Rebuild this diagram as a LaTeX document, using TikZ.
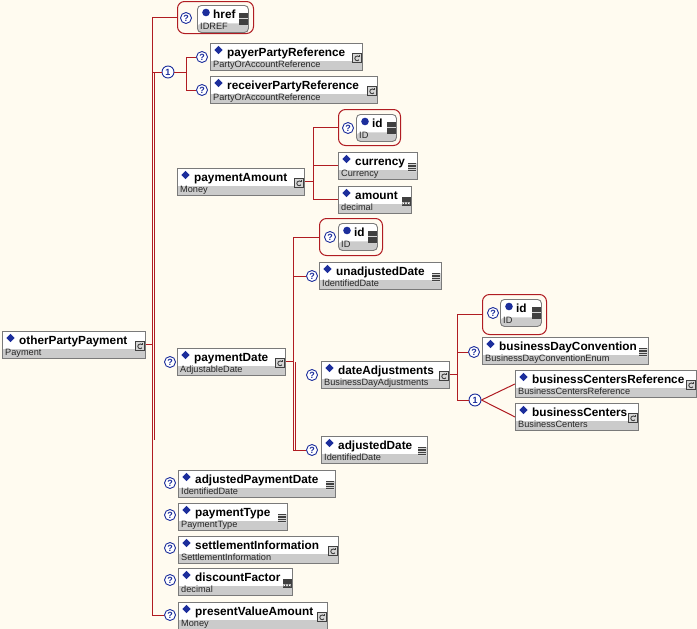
\documentclass[tikz,border=0pt]{standalone}
\usepackage{fontspec}
\setmainfont{Liberation Sans}
\definecolor{bgcream}{HTML}{FFFBF0}
\definecolor{linered}{HTML}{B01C22}
\definecolor{elemblue}{HTML}{1C2E9C}
\definecolor{boxborder}{HTML}{7A7A7A}
\definecolor{bandgray}{HTML}{CBCBCB}
\definecolor{icondark}{HTML}{404040}
\definecolor{iconlight}{HTML}{D6D6D6}
\tikzset{
  conn/.style={draw=linered, line width=1pt},
  ebox/.style={draw=boxborder, fill=white, minimum height=27pt, inner sep=0pt, line width=0.9pt,
    path picture={\fill[bandgray] (path picture bounding box.south west) rectangle ([yshift=9pt]path picture bounding box.south east);}},
  abox/.style={ebox, rounded corners=4pt},
  etitle/.style={anchor=base west, inner sep=0pt, font=\fontsize{11.8}{14}\selectfont\bfseries},
  etype/.style={anchor=base west, inner sep=0pt, font=\fontsize{9.2}{11}\selectfont, text=black!85},
  optq/.style={circle, draw=elemblue, fill=white, line width=0.9pt, minimum size=11pt, inner sep=0pt,
    font=\fontsize{9}{9}\selectfont\bfseries, text=elemblue},
  choicec/.style={optq, minimum size=12pt},
  redframe/.style={draw=linered, fill=bgcream, rounded corners=7pt, line width=1pt, inner sep=0pt, anchor=north west},
  ctype/.pic={
    \filldraw[draw=icondark, fill=iconlight, line width=0.6pt] (-4.5,-4.5) rectangle (4.5,4.5);
    \draw[icondark, line width=0.9pt] (0.2,0.3)+(40:2.4) arc[start angle=40, end angle=320, radius=2.4];
    \draw[icondark, line width=0.6pt] (1.8,-3.2) -- (1.8,-1.2);
  },
  enumtype/.pic={
    \fill[iconlight] (-4.5,-4.5) rectangle (4.5,4.5);
    \foreach \yy in {-3.2,-1.1,1.1,3.2} \draw[icondark, line width=1.2pt] (-3.8,\yy) -- (3.8,\yy);
  },
  dectype/.pic={
    \fill[icondark] (-4.5,-4.5) rectangle (4.5,4.5);
    \foreach \xx in {-2.7,0,2.7} \draw[white, line width=0.5pt] (\xx-0.9,1.2) -- (\xx+0.9,3.2) (\xx-0.9,3.2) -- (\xx+0.9,1.2);
  },
  attrtype/.pic={
    \fill[icondark] (-4.5,-6) rectangle (4.5,6);
    \draw[iconlight, line width=1.6pt] (-4.5,0) -- (4.5,0);
  },
}
% element box: id, x, y, width, title, type, icon
\newcommand\elembox[7]{%
  \node[ebox, minimum width=#4pt, anchor=north west] (#1) at (#2,#3) {};
  \fill[elemblue] (#2+8.5,#3+2.8) -- (#2+12.7,#3+7) -- (#2+8.5,#3+11.2) -- (#2+4.3,#3+7) -- cycle;
  \node[etitle] (#1-name) at (#2+17,#3+13.5) {#5};
  \node[etype] (#1-type) at (#2+3,#3+24.8) {#6};
  \pic at (#2+#4-5,#3+15) {#7};
}
% attribute box: id, x, y, width, title, type
\newcommand\attrbox[6]{%
  \node[abox, minimum width=#4pt, anchor=north west] (#1) at (#2,#3) {};
  \fill[elemblue] (#2+9,#3+7.5) circle[radius=3.8];
  \node[etitle] (#1-name) at (#2+16,#3+13) {#5};
  \node[etype] (#1-type) at (#2+3,#3+24.8) {#6};
  \pic at (#2+#4-5,#3+13.5) {attrtype};
}
\begin{document}
\begin{tikzpicture}[x=1pt,y=-1pt]
\fill[bgcream] (0,0) rectangle (697,629);
\useasboundingbox (0,0) rectangle (697,629);

% ---------- root ----------
\elembox{root}{2}{331}{143}{otherPartyPayment}{Payment}{ctype}

% ---------- href ----------
\node[redframe, minimum width=76pt, minimum height=32pt] (hreff) at (177,1) {};
\node[optq] (qhref) at (186,18) {?};
\attrbox{href}{197}{5}{51}{href}{IDREF}

% ---------- choice 1 ----------
\node[choicec] (ch1) at (168,72) {1};
\node[optq] (qpayer) at (202,57) {?};
\node[optq] (qrecv) at (202,90) {?};
\elembox{payer}{210}{43}{152}{payerPartyReference}{PartyOrAccountReference}{ctype}
\elembox{recv}{210}{76}{167}{receiverPartyReference}{PartyOrAccountReference}{ctype}

% ---------- paymentAmount ----------
\elembox{pa}{177}{168}{127}{paymentAmount}{Money}{ctype}
\node[redframe, minimum width=62pt, minimum height=36pt] (idf1) at (338,109) {};
\node[optq] (qid1) at (348,128) {?};
\attrbox{id1}{356}{114}{40}{id}{ID}
\elembox{cur}{338}{152}{79}{currency}{Currency}{enumtype}
\elembox{amt}{338}{186}{73}{amount}{decimal}{dectype}

% ---------- paymentDate ----------
\node[optq] (qpd) at (170,362) {?};
\elembox{pd}{177}{348}{108}{paymentDate}{AdjustableDate}{ctype}
\node[redframe, minimum width=63pt, minimum height=37pt] (idf2) at (319,218) {};
\node[optq] (qid2) at (330,237) {?};
\attrbox{id2}{338}{223}{39}{id}{ID}
\node[optq] (qunadj) at (312,276) {?};
\elembox{unadj}{319}{262}{122}{unadjustedDate}{IdentifiedDate}{enumtype}
\node[optq] (qda) at (312,375) {?};
\elembox{da}{321}{361}{128}{dateAdjustments}{BusinessDayAdjustments}{ctype}
\node[optq] (qadj) at (312,450) {?};
\elembox{adj}{321}{436}{106}{adjustedDate}{IdentifiedDate}{enumtype}

% ---------- dateAdjustments children ----------
\node[redframe, minimum width=64pt, minimum height=40pt] (idf3) at (482,294) {};
\node[optq] (qid3) at (493,313) {?};
\attrbox{id3}{500}{299}{41}{id}{ID}
\node[optq] (qbdc) at (474,352) {?};
\elembox{bdc}{482}{337}{166}{businessDayConvention}{BusinessDayConventionEnum}{enumtype}
\node[choicec] (ch2) at (475,400) {1};
\elembox{bcr}{515}{370}{181}{businessCentersReference}{BusinessCentersReference}{ctype}
\elembox{bc}{515}{403}{123}{businessCenters}{BusinessCenters}{ctype}

% ---------- remaining children ----------
\node[optq] (qapd) at (170,483) {?};
\elembox{apd}{178}{470}{157}{adjustedPaymentDate}{IdentifiedDate}{enumtype}
\node[optq] (qpt) at (170,515) {?};
\elembox{pt}{178}{503}{109}{paymentType}{PaymentType}{enumtype}
\node[optq] (qsi) at (170,548) {?};
\elembox{si}{178}{536}{160}{settlementInformation}{SettlementInformation}{ctype}
\node[optq] (qdf) at (170,580) {?};
\elembox{df}{178}{568}{114}{discountFactor}{decimal}{dectype}
\node[optq] (qpva) at (170,615) {?};
\elembox{pva}{178}{602}{149}{presentValueAmount}{Money}{ctype}

% ---------- connectors ----------
\coordinate (T) at (152,0);
\coordinate (Tb1) at (154.6,72);
\coordinate (Tb2) at (154.6,440);
\draw[conn] (root.east) -- (root.east -| T);
\draw[conn] (hreff.west) -- (hreff.west -| T) -- (qpva.west -| T) -- (qpva.west);
\draw[conn] (ch1.west -| T) -- (ch1.west);
\draw[conn] (Tb1) -- (Tb2);

\coordinate (C1) at (186,0);
\draw[conn] (ch1.east) -- (ch1.east -| C1);
\draw[conn] (qpayer.west) -- (qpayer.west -| C1) -- (qrecv.west -| C1) -- (qrecv.west);

\coordinate (S1) at (313,0);
\draw[conn] (pa.east) -- (pa.east -| S1);
\draw[conn] (idf1.west) -- (idf1.west -| S1) -- (amt.west -| S1) -- (amt.west);
\draw[conn] (cur.west -| S1) -- (cur.west);

\coordinate (S2) at (293,0);
\coordinate (S2b1) at (295.6,362);
\coordinate (S2b2) at (295.6,450);
\draw[conn] (pd.east) -- (pd.east -| S2);
\draw[conn] (idf2.west) -- (idf2.west -| S2) -- (qadj.west -| S2) -- (qadj.west);
\draw[conn] (qunadj.west -| S2) -- (qunadj.west);
\draw[conn] (S2b1) -- (S2b2);

\coordinate (S3) at (457,0);
\draw[conn] (da.east) -- (da.east -| S3);
\draw[conn] (idf3.west) -- (idf3.west -| S3) -- (ch2.west -| S3) -- (ch2.west);
\draw[conn] (qbdc.west -| S3) -- (qbdc.west);
\draw[conn] (ch2.east) -- (bcr.west);
\draw[conn] (ch2.east) -- (bc.west);
\end{tikzpicture}
\end{document}
